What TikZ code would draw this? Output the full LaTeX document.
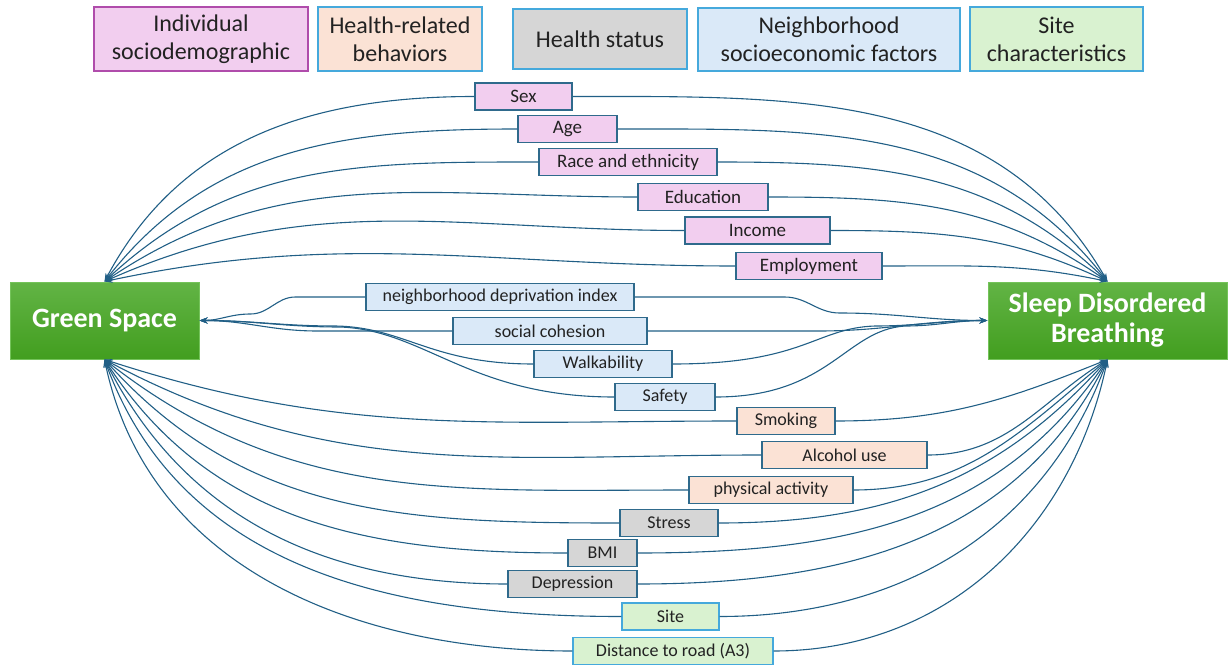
\documentclass[tikz,border=0pt]{standalone}
\usepackage{fontspec}
\setmainfont{Carlito}
\usetikzlibrary{arrows.meta}
\definecolor{pinkf}{HTML}{F2CEEF}
\definecolor{peachf}{HTML}{FBE2D5}
\definecolor{grayf}{HTML}{D6D6D6}
\definecolor{bluef}{HTML}{DAE9F8}
\definecolor{greenf}{HTML}{D9F2D0}
\definecolor{boxb}{HTML}{2F6A8C}
\definecolor{linec}{HTML}{215F86}
\definecolor{legpurple}{HTML}{B04CAB}
\definecolor{legblue}{HTML}{45A9DC}
\definecolor{gtop}{HTML}{62B445}
\definecolor{gbot}{HTML}{429E1F}
\definecolor{gborder}{HTML}{74C35A}
\definecolor{txt}{HTML}{222222}
\tikzset{
  conn/.style={draw=linec, line width=1.1pt, -{Stealth[length=8pt,width=6pt]}},
  var/.style={draw=boxb, line width=1.2pt, minimum height=27pt, inner sep=0pt, text=txt, font=\fontsize{18}{20}\selectfont},
  ind/.style={var, fill=pinkf, font=\fontsize{19}{21}\selectfont},
  beh/.style={var, fill=peachf},
  hst/.style={var, fill=grayf},
  nbh/.style={var, fill=bluef},
  sitec/.style={var, fill=greenf, draw=legblue},
  leg/.style={line width=1.2pt, inner sep=0pt, align=center, text=txt, font=\fontsize{24}{28}\selectfont},
  main/.style={draw=gborder, line width=1pt, top color=gtop, bottom color=gbot, text=white, inner sep=0pt, minimum height=77pt, align=center, font=\fontsize{28}{30}\selectfont\bfseries},
}
\begin{document}
\begin{tikzpicture}[x=1pt,y=-1pt]
\useasboundingbox (0,0) rectangle (1231,671);
% legend
\node[leg, draw=legpurple, fill=pinkf, minimum width=214pt, minimum height=64pt] (l1) at (201,39) {Individual\\sociodemographic};
\node[leg, draw=legblue, fill=peachf, minimum width=164pt, minimum height=64pt] (l2) at (400,39) {Health-related\\behaviors};
\node[leg, draw=legblue, fill=grayf, minimum width=174pt, minimum height=60pt] (l3) at (600,39) {Health status};
\node[leg, draw=legblue, fill=bluef, minimum width=262pt, minimum height=63pt] (l4) at (829,39.5) {Neighborhood\\socioeconomic factors};
\node[leg, draw=legblue, fill=greenf, minimum width=173pt, minimum height=64pt] (l5) at (1056.5,39) {Site\\characteristics};
% main nodes
\node[main, minimum width=189pt] (gs) at (104.5,320.5) {Green Space};
\node[main, minimum width=239pt] (sdb) at (1107.5,320.5) {Sleep Disordered\\Breathing};
% variables
\node[ind, minimum width=97pt] (sex) at (523.5,96.5) {Sex};
\node[ind, minimum width=99pt] (age) at (567.5,129) {Age};
\node[ind, minimum width=178pt] (race) at (628,162) {Race and ethnicity};
\node[ind, minimum width=130pt] (edu) at (703,197) {Education};
\node[ind, minimum width=145pt] (inc) at (757.5,230.5) {Income};
\node[ind, minimum width=146pt] (emp) at (809,266) {Employment};
\node[nbh, minimum width=268pt] (ndi) at (500,297) {neighborhood deprivation index};
\node[nbh, minimum width=194pt] (soc) at (550,331) {social cohesion};
\node[nbh, minimum width=138pt] (walk) at (603,364) {Walkability};
\node[nbh, minimum width=100pt] (safe) at (665,397) {Safety};
\node[beh, minimum width=98pt] (smk) at (786,421) {Smoking};
\node[beh, minimum width=165pt] (alc) at (844.5,455) {Alcohol use};
\node[beh, minimum width=164pt] (phys) at (771,490) {physical activity};
\node[hst, minimum width=98pt] (stress) at (669,523) {Stress};
\node[hst, minimum width=69pt] (bmi) at (602.5,553) {BMI};
\node[hst, minimum width=129pt] (dep) at (572.5,584) {Depression};
\node[sitec, minimum width=97pt] (site) at (670.5,616.5) {Site};
\node[sitec, minimum width=200pt] (dist) at (673,651) {Distance to road (A3)};
% upper connectors
\draw[conn] (sex.west) to[out=180,in=62] (gs.north);
\draw[conn] (age.west) to[out=180,in=52] (gs.north);
\draw[conn] (race.west) to[out=180,in=43] (gs.north);
\draw[conn] (edu.west) to[out=180,in=34] (gs.north);
\draw[conn] (inc.west) to[out=180,in=24] (gs.north);
\draw[conn] (emp.west) to[out=180,in=12] (gs.north);
\draw[conn] (sex.east) to[out=0,in=120] (sdb.north);
\draw[conn] (age.east) to[out=0,in=128] (sdb.north);
\draw[conn] (race.east) to[out=0,in=136] (sdb.north);
\draw[conn] (edu.east) to[out=0,in=145] (sdb.north);
\draw[conn] (inc.east) to[out=0,in=155] (sdb.north);
\draw[conn] (emp.east) to[out=0,in=168] (sdb.north);
% neighborhood connectors
\draw[conn] (ndi.west) -- ++(-70,0) to[out=180,in=0] ++(-45,17) to[out=180,in=0] (gs.east);
\draw[conn] (soc.west) -- ++(-135,0) to[out=180,in=0] (gs.east);
\draw[conn] (walk.west) .. controls (430,364) and (405,327) .. (335,326) to[out=180,in=0] (gs.east);
\draw[conn] (safe.west) .. controls (470,397) and (425,330) .. (340,327) to[out=180,in=0] (gs.east);
\draw[conn] (ndi.east) -- ++(150,0) to[out=0,in=180] ++(55,16) to[out=0,in=180] (sdb.west);
\draw[conn] (soc.east) -- ++(171,0) to[out=0,in=180] (sdb.west);
\draw[conn] (walk.east) .. controls (805,364) and (815,328) .. (875,326) to[out=0,in=180] (sdb.west);
\draw[conn] (safe.east) .. controls (830,397) and (845,330) .. (905,326) to[out=0,in=180] (sdb.west);
% lower connectors
\draw[conn] (smk.west) to[out=180,in=-18] (gs.south);
\draw[conn] (alc.west) to[out=180,in=-28] (gs.south);
\draw[conn] (phys.west) to[out=180,in=-38] (gs.south);
\draw[conn] (stress.west) to[out=180,in=-48] (gs.south);
\draw[conn] (bmi.west) to[out=180,in=-57] (gs.south);
\draw[conn] (dep.west) to[out=180,in=-63] (gs.south);
\draw[conn] (site.west) to[out=180,in=-70] (gs.south);
\draw[conn] (dist.west) to[out=180,in=-78] (gs.south);
\draw[conn] (smk.east) to[out=0,in=-158] (sdb.south);
\draw[conn] (alc.east) to[out=0,in=-148] (sdb.south);
\draw[conn] (phys.east) to[out=0,in=-140] (sdb.south);
\draw[conn] (stress.east) to[out=0,in=-132] (sdb.south);
\draw[conn] (bmi.east) to[out=0,in=-124] (sdb.south);
\draw[conn] (dep.east) to[out=0,in=-117] (sdb.south);
\draw[conn] (site.east) to[out=0,in=-110] (sdb.south);
\draw[conn] (dist.east) to[out=0,in=-102] (sdb.south);
\end{tikzpicture}
\end{document}
